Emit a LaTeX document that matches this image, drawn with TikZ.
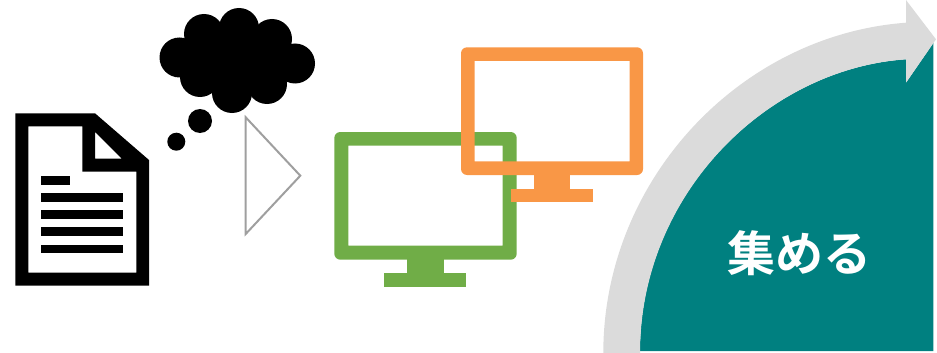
\documentclass[tikz,border=0pt]{standalone}
\usepackage{fontspec}
\newfontfamily\jpfont{Noto Sans CJK JP}[BoldFont={Noto Sans CJK JP Bold}]
\definecolor{tealfill}{HTML}{008080}
\definecolor{arrowgray}{HTML}{DBDBDB}
\definecolor{screenorange}{HTML}{F99746}
\definecolor{screengreen}{HTML}{70AD47}
\begin{document}
\begin{tikzpicture}[
    x=1pt, y=-1pt,
    % Shape styles (icons and arrow)
    ink/.style={fill=black},
    screen/.style={fill=#1, even odd rule},
    stand/.style={fill=#1},
    playmark/.style={draw=gray!75, line width=2pt, line join=miter},
    label/.style={text=white, font=\jpfont\bfseries\fontsize{48}{48}\selectfont, inner sep=0pt}
]
\useasboundingbox (0,0) rectangle (937,353);

% ---------------------------------------------------------
% 1. DOCUMENT ICON
% ---------------------------------------------------------
\fill[ink, even odd rule] (15.3,113.3) -- (95,113.3) -- (149,160) -- (149,285.7) -- (15.3,285.7) -- cycle
    (28.3,126.3) -- (82.3,126.3) -- (82.3,171.7) -- (136.3,171.7) -- (136.3,272.7) -- (28.3,272.7) -- cycle
    (95,132) -- (121.7,158.7) -- (95,158.7) -- cycle;
% Text lines
\fill[ink] (41,176) rectangle (70,185);
\foreach \y in {193, 210.3, 227, 244.7} \fill[ink] (41,\y) rectangle (123.3,\y+8.7);

% ---------------------------------------------------------
% 2. THOUGHT CLOUD
% ---------------------------------------------------------
\foreach \x/\y in {179.5/57.5, 204/34, 239/28, 272/39, 295/63.5, 267/84, 232/93, 200/77}
    \fill[ink] (\x,\y) circle (20);
\fill[ink] (185,50) -- (240,25) -- (295,60) -- (235,100) -- cycle;
\fill[ink] (200,121) circle (12);
\fill[ink] (176.3,141.7) circle (9);

% ---------------------------------------------------------
% 3. TRIANGLE
% ---------------------------------------------------------
\draw[playmark] (245.7,117.3) -- (300.3,175.7) -- (245.7,234) -- cycle;

% ---------------------------------------------------------
% 4. MONITORS
% ---------------------------------------------------------
% Green
\fill[screen=screengreen] [rounded corners=6pt] (334.3,132) rectangle (516.7,259.7)
    [sharp corners] (348.3,145.7) rectangle (502.7,245.7);
\fill[stand=screengreen] (407.3,259) rectangle (443.7,274);
\fill[stand=screengreen] (384.3,273) rectangle (466.3,286.7);

% Orange
\fill[screen=screenorange] [rounded corners=6pt] (461,47.3) rectangle (643,175)
    [sharp corners] (474.7,61) rectangle (629.7,161.3);
\fill[stand=screenorange] (533.7,174) rectangle (570.3,189.7);
\fill[stand=screenorange] (511,188.7) rectangle (593,202);

% ---------------------------------------------------------
% 5. CURVED ARROW AND LABEL
% ---------------------------------------------------------
\fill[tealfill] (640,351) .. controls (640,195) and (766,69) .. (906,59.3)
    -- (906,82.7) -- (933.3,43) -- (933.3,351) -- cycle;
\fill[arrowgray] (603.3,353) .. controls (603.3,180) and (740,35) .. (906,22.7)
    -- (906,0) -- (936,39.3) -- (906,82.7) -- (906,59.3)
    .. controls (766,69) and (640,195) .. (640,353) -- cycle;

\node[label] (atsumeru) at (799,253.5) {集める};

\end{tikzpicture}
\end{document}
